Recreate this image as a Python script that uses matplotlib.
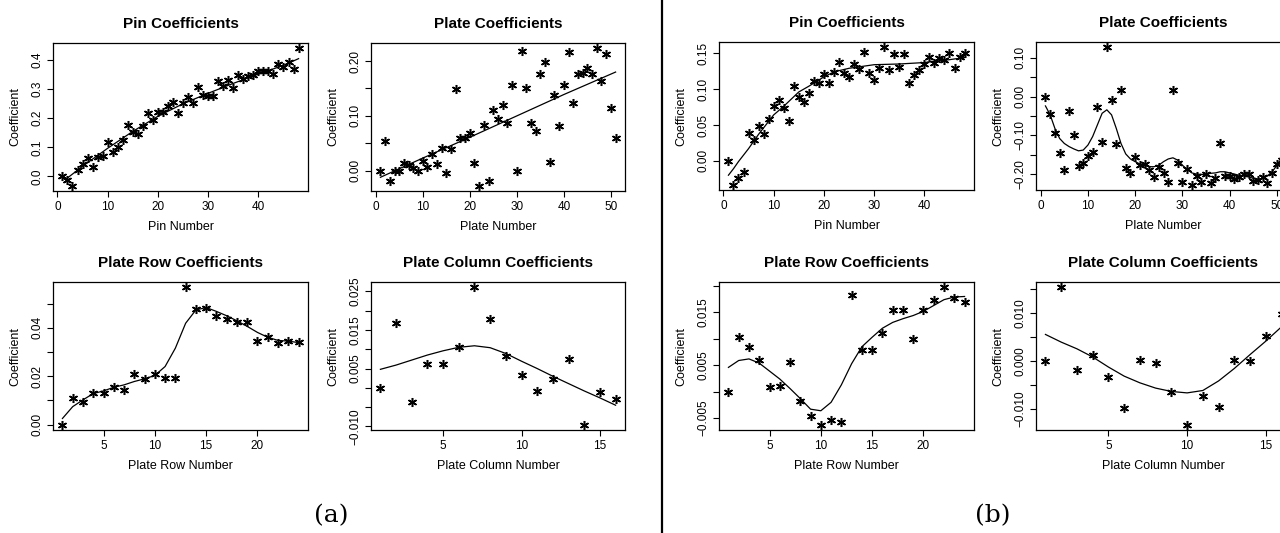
import numpy as np
import matplotlib.pyplot as plt
from matplotlib.lines import Line2D

plt.rcParams['font.family'] = ['Liberation Sans', 'DejaVu Sans']

# ---- panel (a) data ----
a_pin = [0.000, -0.012, -0.031, 0.021, 0.044, 0.063, 0.032, 0.068, 0.070, 0.119,
         0.084, 0.101, 0.127, 0.178, 0.152, 0.146, 0.173, 0.219, 0.194, 0.221,
         0.221, 0.244, 0.256, 0.219, 0.252, 0.274, 0.254, 0.309, 0.280, 0.277,
         0.277, 0.329, 0.311, 0.332, 0.305, 0.349, 0.334, 0.346, 0.349, 0.361,
         0.363, 0.361, 0.354, 0.386, 0.375, 0.392, 0.371, 0.440]
a_pin_fit_x = [2, 5, 10, 15, 20, 25, 30, 35, 40, 45, 48]
a_pin_fit = [-0.005, 0.035, 0.097, 0.155, 0.207, 0.250, 0.286, 0.320, 0.352, 0.382, 0.405]

a_plate = [0.000, 0.055, -0.018, -0.001, 0.000, 0.014, 0.010, 0.005, -0.001, 0.018,
           0.006, 0.031, 0.013, 0.042, -0.005, 0.040, 0.149, 0.060, 0.060, 0.069,
           0.014, -0.027, 0.084, -0.018, 0.110, 0.095, 0.119, 0.087, 0.157, 0.000,
           0.219, 0.150, 0.087, 0.073, 0.177, 0.199, 0.015, 0.138, 0.081, 0.156,
           0.216, 0.123, 0.176, 0.179, 0.187, 0.176, 0.223, 0.164, 0.213, 0.114,
           0.059]
a_plate_fit_x = [1, 10, 20, 30, 40, 51]
a_plate_fit = [-0.012, 0.023, 0.061, 0.100, 0.139, 0.180]

a_row = [0.0000, 0.0109, 0.0095, 0.0132, 0.0132, 0.0154, 0.0143, 0.0207, 0.0189, 0.0207,
         0.0194, 0.0194, 0.0567, 0.0477, 0.0484, 0.0447, 0.0436, 0.0423, 0.0423, 0.0347,
         0.0364, 0.0337, 0.0347, 0.0341]
a_row_fit = [0.0025, 0.0074, 0.0102, 0.0128, 0.0139, 0.0154, 0.0164, 0.0178, 0.0189, 0.0203,
             0.0240, 0.0316, 0.0419, 0.0474, 0.0484, 0.0468, 0.0450, 0.0429, 0.0406, 0.0381,
             0.0361, 0.0348, 0.0345, 0.0339]

a_col = [0.0000, 0.0167, -0.0036, 0.0063, 0.0061, 0.0107, 0.0260, 0.0178, 0.0083, 0.0032,
         -0.0009, 0.0023, 0.0074, -0.0095, -0.0012, -0.0028]
a_col_fit = [0.0048, 0.0059, 0.0072, 0.0085, 0.0096, 0.0105, 0.0109, 0.0104, 0.0089, 0.0069,
             0.0050, 0.0030, 0.0011, -0.0008, -0.0026, -0.0045]

# ---- panel (b) data ----
b_pin = [0.000, -0.033, -0.024, -0.015, 0.039, 0.029, 0.049, 0.037, 0.058, 0.076,
         0.085, 0.073, 0.056, 0.105, 0.089, 0.082, 0.095, 0.111, 0.109, 0.121,
         0.108, 0.124, 0.138, 0.122, 0.117, 0.135, 0.128, 0.152, 0.123, 0.113,
         0.130, 0.158, 0.126, 0.149, 0.131, 0.149, 0.109, 0.120, 0.127, 0.135,
         0.145, 0.137, 0.144, 0.140, 0.150, 0.129, 0.145, 0.150]
b_pin_fit_x = [1, 2, 3, 5, 7, 10, 12, 15, 17, 20, 22, 25, 27, 30, 35, 40, 45, 48]
b_pin_fit = [-0.020, -0.011, -0.001, 0.017, 0.037, 0.064, 0.076, 0.096, 0.104, 0.117,
             0.124, 0.129, 0.131, 0.134, 0.135, 0.137, 0.141, 0.144]

b_plate = [0.000, -0.045, -0.093, -0.145, -0.190, -0.036, -0.098, -0.179, -0.172, -0.153,
           -0.142, -0.026, -0.116, 0.127, -0.009, -0.123, 0.016, -0.185, -0.197, -0.155,
           -0.177, -0.174, -0.190, -0.207, -0.183, -0.197, -0.220, 0.017, -0.172, -0.220,
           -0.188, -0.227, -0.204, -0.220, -0.200, -0.224, -0.211, -0.119, -0.205, -0.204,
           -0.214, -0.207, -0.200, -0.200, -0.218, -0.216, -0.207, -0.224, -0.198, -0.174,
           -0.164]
b_plate_fit = [-0.024, -0.047, -0.082, -0.108, -0.121, -0.129, -0.135, -0.140, -0.138, -0.125,
               -0.103, -0.073, -0.043, -0.034, -0.047, -0.082, -0.121, -0.148, -0.161, -0.168,
               -0.174, -0.178, -0.181, -0.181, -0.177, -0.168, -0.161, -0.158, -0.164, -0.177,
               -0.188, -0.197, -0.200, -0.201, -0.201, -0.198, -0.197, -0.194, -0.194, -0.197,
               -0.200, -0.203, -0.204, -0.207, -0.211, -0.213, -0.211, -0.205, -0.194, -0.178,
               -0.159]

b_row = [0.0000, 0.0104, 0.0084, 0.0059, 0.0008, 0.0011, 0.0056, -0.0017, -0.0046, -0.0062,
         -0.0054, -0.0058, 0.0182, 0.0079, 0.0078, 0.0111, 0.0155, 0.0154, 0.0100, 0.0154,
         0.0173, 0.0197, 0.0177, 0.0169]
b_row_fit = [0.0046, 0.0059, 0.0062, 0.0054, 0.0039, 0.0024, 0.0006, -0.0013, -0.0033, -0.0036,
             -0.0020, 0.0013, 0.0053, 0.0085, 0.0103, 0.0120, 0.0131, 0.0138, 0.0144, 0.0152,
             0.0163, 0.0174, 0.0179, 0.0180]

b_col = [0.0000, 0.0154, -0.0019, 0.0014, -0.0033, -0.0098, 0.0003, -0.0003, -0.0064, -0.0132,
         -0.0073, -0.0096, 0.0003, 0.0000, 0.0053, 0.0098]
b_col_fit = [0.0056, 0.0040, 0.0026, 0.0009, -0.0012, -0.0031, -0.0045, -0.0056, -0.0063, -0.0066,
             -0.0061, -0.0041, -0.0015, 0.0014, 0.0042, 0.0072]

M = '\u2212'


def panel(fig, px, title, xlabel, y, fit_x, fit_y, xticks, yticks, ylabels):
    x0, y0, x1, y1 = px
    ax = fig.add_axes([x0 / 1280, 1 - y1 / 533, (x1 - x0) / 1280, (y1 - y0) / 533])
    x = np.arange(1, len(y) + 1)
    ax.plot(x, y, linestyle='none', marker=(6, 2, 0), markersize=6.5,
            markeredgewidth=1.1, color='black')
    ax.plot(fit_x, fit_y, color='black', linewidth=0.9)
    xr = x.max() - x.min()
    yr = max(y) - min(y)
    ax.set_xlim(x.min() - 0.04 * xr, x.max() + 0.04 * xr)
    ax.set_ylim(min(y) - 0.04 * yr, max(y) + 0.04 * yr)
    ax.set_xticks(xticks)
    ax.set_yticks(yticks)
    ax.set_yticklabels(ylabels)
    ax.tick_params(direction='out', length=4.5, width=0.8, labelsize=8.5, pad=2.5)
    for lab in ax.get_yticklabels():
        lab.set_rotation(90)
        lab.set_va('center')
    for s in ax.spines.values():
        s.set_linewidth(0.9)
    ax.set_title(title, fontsize=11, fontweight='bold', pad=11)
    ax.set_xlabel(xlabel, fontsize=9, labelpad=6)
    ax.set_ylabel('Coefficient', fontsize=9, labelpad=7)
    return ax


fig = plt.figure(figsize=(12.8, 5.33), dpi=100)

# (a)
panel(fig, (53, 43, 308, 191), 'Pin Coefficients', 'Pin Number', a_pin,
      a_pin_fit_x, a_pin_fit, [0, 10, 20, 30, 40],
      [0, 0.1, 0.2, 0.3, 0.4], ['0.0', '0.1', '0.2', '0.3', '0.4'])
panel(fig, (371, 43, 625, 191), 'Plate Coefficients', 'Plate Number', a_plate,
      a_plate_fit_x, a_plate_fit, [0, 10, 20, 30, 40, 50],
      [0, 0.05, 0.10, 0.15, 0.20], ['0.00', '', '0.10', '', '0.20'])
panel(fig, (53, 282, 308, 430), 'Plate Row Coefficients', 'Plate Row Number', a_row,
      np.arange(1, 25), a_row_fit, [5, 10, 15, 20],
      [0, 0.01, 0.02, 0.03, 0.04, 0.05], ['0.00', '', '0.02', '', '0.04', ''])
panel(fig, (371, 282, 625, 430), 'Plate Column Coefficients', 'Plate Column Number', a_col,
      np.arange(1, 17), a_col_fit, [5, 10, 15],
      [-0.010, -0.005, 0, 0.005, 0.010, 0.015, 0.020, 0.025],
      [M + '0.010', '', '', '0.005', '', '0.015', '', '0.025'])

# (b)
panel(fig, (719, 42, 974, 190), 'Pin Coefficients', 'Pin Number', b_pin,
      b_pin_fit_x, b_pin_fit, [0, 10, 20, 30, 40],
      [0, 0.05, 0.10, 0.15], ['0.00', '0.05', '0.10', '0.15'])
panel(fig, (1036, 42, 1291, 190), 'Plate Coefficients', 'Plate Number', b_plate,
      np.arange(1, 52), b_plate_fit, [0, 10, 20, 30, 40, 50],
      [-0.20, -0.15, -0.10, -0.05, 0, 0.05, 0.10],
      [M + '0.20', '', M + '0.10', '', '0.00', '', '0.10'])
panel(fig, (719, 282, 974, 430), 'Plate Row Coefficients', 'Plate Row Number', b_row,
      np.arange(1, 25), b_row_fit, [5, 10, 15, 20],
      [-0.005, 0, 0.005, 0.010, 0.015, 0.020],
      [M + '0.005', '', '0.005', '', '0.015', ''])
panel(fig, (1036, 282, 1291, 430), 'Plate Column Coefficients', 'Plate Column Number', b_col,
      np.arange(1, 17), b_col_fit, [5, 10, 15],
      [-0.010, -0.005, 0, 0.005, 0.010, 0.015],
      [M + '0.010', '', '0.000', '', '0.010', ''])

fig.add_artist(Line2D([662 / 1280, 662 / 1280], [0, 1], transform=fig.transFigure,
                      color='black', linewidth=1.6))
fig.text(331 / 1280, 1 - 516 / 533, '(a)', ha='center', va='center',
         fontsize=18, family='DejaVu Serif')
fig.text(993 / 1280, 1 - 516 / 533, '(b)', ha='center', va='center',
         fontsize=18, family='DejaVu Serif')

fig.savefig('out.png', dpi=100)
